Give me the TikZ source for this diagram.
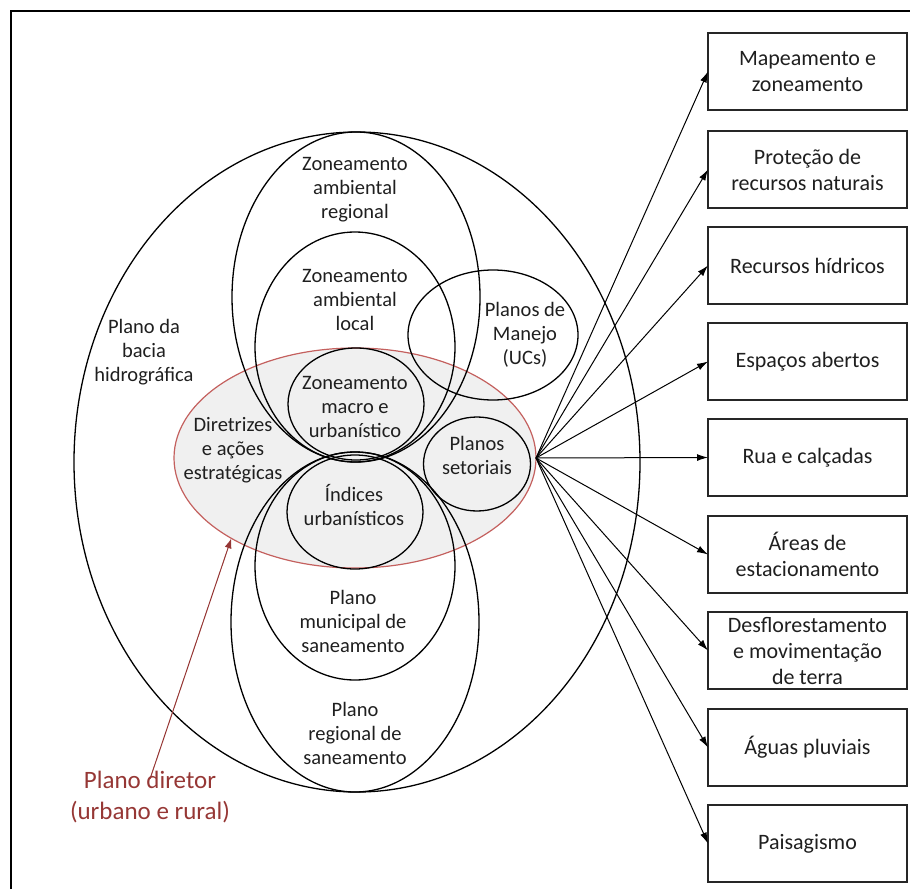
\documentclass[tikz,border=0pt]{standalone}
\usepackage{fontspec}
\setmainfont{Carlito}
\usetikzlibrary{arrows.meta,shapes.geometric}
\definecolor{ringred}{RGB}{196,96,94}
\definecolor{labelred}{RGB}{150,55,53}
\definecolor{lensfill}{RGB}{240,240,240}
\begin{document}
\begin{tikzpicture}[x=1pt,y=-1pt,
  ring/.style={ellipse, draw=black, line width=1.3pt, inner sep=0pt, outer sep=0pt},
  lbl/.style={align=center, font=\fontsize{20.5}{24}\selectfont, text=black!88, inner sep=0pt},
  sidebox/.style={draw=black!85, line width=1.3pt, minimum width=199pt, minimum height=77pt,
    align=center, font=\fontsize{22}{26}\selectfont, text=black!88, inner sep=0pt, outer sep=0pt},
  feed/.style={-{Latex[length=11pt,width=7pt]}, line width=1pt},
]
\useasboundingbox (0,0) rectangle (910,889);

% page frame
\draw[line width=2pt] (11,889) -- (11,11) -- (910,11);

% basin plan (outermost ring)
\node[ring, minimum width=566pt, minimum height=660pt] (basin) at (357,462) {};

% master plan lens, filled, under the other rings
\node[ellipse, draw=ringred, fill=lensfill, line width=1.2pt, inner sep=0pt, outer sep=0pt,
      minimum width=362pt, minimum height=220pt] (diretor) at (355,458) {};

% upper rings: environmental zoning
\node[ring, minimum width=248pt, minimum height=330pt] (zreg) at (356,297) {};
\node[ring, minimum width=200pt, minimum height=230pt] (zloc) at (355,347) {};
\node[ring, minimum width=136pt, minimum height=112pt] (zmac) at (356,404) {};

% lower rings: urban indices and sanitation
\node[ring, minimum width=136pt, minimum height=114pt] (ind) at (355,512) {};
\node[ring, minimum width=200pt, minimum height=228pt] (smun) at (355,566) {};
\node[ring, minimum width=248pt, minimum height=340pt] (sreg) at (355,622) {};

% side rings
\node[ring, minimum width=170pt, minimum height=130pt] (manejo) at (493,335) {};
\node[ring, minimum width=107pt, minimum height=94pt] (setor) at (477,464) {};

% ring labels
\node[lbl] (tbasin) at (144,352) {Plano da\\bacia\\hidrográfica};
\node[lbl] (tzreg) at (355,190) {Zoneamento\\ambiental\\regional};
\node[lbl] (tzloc) at (355,300) {Zoneamento\\ambiental\\local};
\node[lbl] (tman) at (525,335) {Planos de\\Manejo\\(UCs)};
\node[lbl] (tzmac) at (355,407) {Zoneamento\\macro e\\urbanístico};
\node[lbl] (tdir) at (233,450) {Diretrizes\\e ações\\estratégicas};
\node[lbl] (tset) at (477,455) {Planos\\setoriais};
\node[lbl] (tind) at (354,505) {Índices\\urbanísticos};
\node[lbl] (tsmun) at (353,621) {Plano\\municipal de\\saneamento};
\node[lbl] (tsreg) at (355,733) {Plano\\regional de\\saneamento};

% master plan caption and its pointer
\node[align=center, font=\fontsize{25}{31}\selectfont, text=labelred, inner sep=0pt]
  (dirlabel) at (150,797) {Plano diretor\\(urbano e rural)};
\draw[-{Latex[length=10pt,width=7pt]}, draw=labelred, fill=labelred, line width=1pt]
  ([yshift=-8pt]dirlabel.north) -- (diretor.213);

% thematic boxes
\node[sidebox] (b1) at (807.5,71.5) {Mapeamento e\\zoneamento};
\node[sidebox] (b2) at (807.5,169.5) {Proteção de\\recursos naturais};
\node[sidebox] (b3) at (807.5,265.5) {Recursos hídricos};
\node[sidebox] (b4) at (807.5,361.5) {Espaços abertos};
\node[sidebox] (b5) at (807.5,457.5) {Rua e calçadas};
\node[sidebox] (b6) at (807.5,554.5) {Áreas de\\estacionamento};
\node[sidebox] (b7) at (807.5,650.5) {Desflorestamento\\e movimentação\\de terra};
\node[sidebox] (b8) at (807.5,747.5) {Águas pluviais};
\node[sidebox] (b9) at (807.5,843.5) {Paisagismo};

% fan of arrows from the master plan to the boxes
\coordinate (fan) at (diretor.east);
\foreach \b in {b1,b2,b3,b4,b5,b6,b7,b8,b9}
  \draw[feed] (fan) -- (\b.west);
\end{tikzpicture}
\end{document}
